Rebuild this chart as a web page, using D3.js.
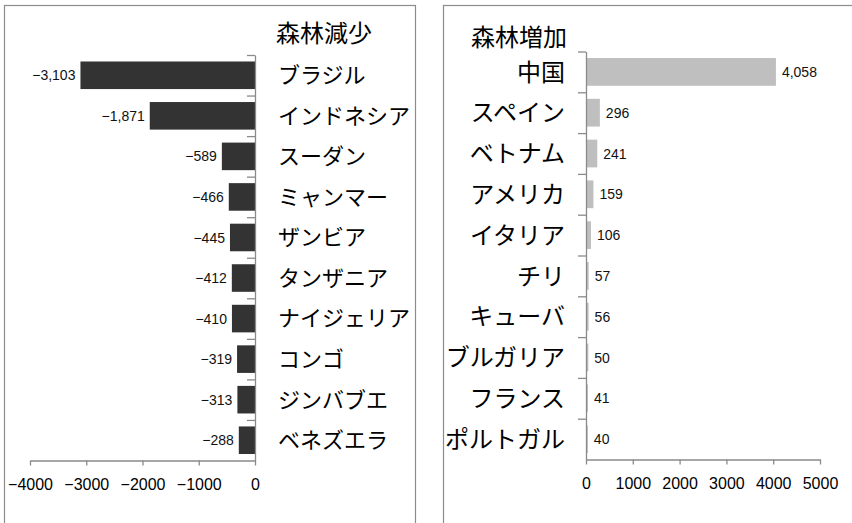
<!DOCTYPE html>
<html>
<head>
<meta charset="utf-8">
<script src="https://cdn.jsdelivr.net/npm/d3@7"></script>
<style>
  body { margin: 0; background: #fff; }
  svg text { font-family: "Noto Sans CJK JP", "Noto Sans", sans-serif; }
  .num { font-family: "Liberation Sans", Arial, sans-serif; }
</style>
</head>
<body>
<div id="chart"></div>
<script>
// Données
const lossCountries = ["ブラジル", "インドネシア", "スーダン", "ミャンマー", "ザンビア", "タンザニア", "ナイジェリア", "コンゴ", "ジンバブエ", "ベネズエラ"];
const lossValues = [-3103, -1871, -589, -466, -445, -412, -410, -319, -313, -288];
const gainCountries = ["中国", "スペイン", "ベトナム", "アメリカ", "イタリア", "チリ", "キューバ", "ブルガリア", "フランス", "ポルトガル"];
const gainValues = [4058, 296, 241, 159, 106, 57, 56, 50, 41, 40];
const lossTicks = [-4000, -3000, -2000, -1000, 0];
const gainTicks = [0, 1000, 2000, 3000, 4000, 5000];
const lossTitle = "森林減少";
const gainTitle = "森林増加";

const W = 852, H = 523;
const axisColor = "#8a8a8a";

const svg = d3.select("#chart").append("svg")
    .attr("width", W)
    .attr("height", H);

// Cadres des deux panneaux
svg.append("rect")
    .attr("x", 4.5).attr("y", 5.5)
    .attr("width", 411).attr("height", 530)
    .attr("fill", "none").attr("stroke", "#8c8c8c").attr("stroke-width", 1.2);
svg.append("rect")
    .attr("x", 443.5).attr("y", 5.5)
    .attr("width", 430).attr("height", 530)
    .attr("fill", "none").attr("stroke", "#8c8c8c").attr("stroke-width", 1.2);

function panel(cfg) {
    const { names, values, ticks, title, xDomain, xRange, top, bottom, color, side, catSize } = cfg;
    const g = svg.append("g");

    const x = d3.scaleLinear().domain(xDomain).range(xRange);
    const y = d3.scaleBand().domain(names).range([top, bottom]).paddingInner(0.32).paddingOuter(0.16);
    const yLin = d3.scaleLinear().domain([0, names.length]).range([top, bottom]);
    const x0 = x(0);

    // Barres
    g.selectAll("rect.bar")
        .data(values)
        .enter()
        .append("rect")
        .attr("class", "bar")
        .attr("x", d => Math.min(x(d), x0))
        .attr("y", (d, i) => y(names[i]))
        .attr("width", d => Math.abs(x(d) - x0))
        .attr("height", y.bandwidth())
        .attr("fill", color);

    // Étiquettes de valeurs
    g.selectAll("text.val")
        .data(values)
        .enter()
        .append("text")
        .attr("class", "num")
        .attr("x", d => side === "left" ? x(d) - 5 : x(d) + 6)
        .attr("y", (d, i) => y(names[i]) + y.bandwidth() / 2)
        .attr("dy", "0.36em")
        .attr("text-anchor", side === "left" ? "end" : "start")
        .attr("font-size", 14)
        .attr("fill", "#111")
        .text(d => d3.format(",")(d));

    // Axe vertical (catégories)
    const yAxis = g.append("g")
        .attr("transform", `translate(${x0},0)`)
        .call(d3.axisLeft(yLin).tickValues(d3.range(names.length)).tickSize(8).tickSizeOuter(0).tickFormat(""));
    yAxis.select(".domain").attr("stroke", axisColor).attr("stroke-width", 1.3);
    yAxis.selectAll(".tick line").attr("stroke", axisColor).attr("stroke-width", 1.3);

    // Noms des pays
    g.selectAll("text.cat")
        .data(names)
        .enter()
        .append("text")
        .attr("x", side === "left" ? 278 : 565)
        .attr("y", d => y(d) + y.bandwidth() / 2)
        .attr("dy", "0.36em")
        .attr("text-anchor", side === "left" ? "start" : "end")
        .attr("font-size", catSize)
        .attr("fill", "#000")
        .text(d => d);

    // Axe horizontal
    const xAxis = g.append("g")
        .attr("transform", `translate(0,${bottom})`)
        .call(d3.axisBottom(x).tickValues(ticks).tickSize(5).tickSizeOuter(0).tickPadding(13).tickFormat(d3.format("d")));
    xAxis.select(".domain").attr("stroke", axisColor).attr("stroke-width", 1.3);
    xAxis.selectAll(".tick line").attr("stroke", axisColor).attr("stroke-width", 1.3);
    xAxis.selectAll("text")
        .attr("class", "num")
        .attr("font-size", 16)
        .attr("fill", "#000");

    // Titre
    g.append("text")
        .attr("x", side === "left" ? 276 : 471)
        .attr("y", side === "left" ? 33 : 37)
        .attr("dy", "0.36em")
        .attr("font-size", 24)
        .attr("fill", "#000")
        .text(title);
}

panel({
    names: lossCountries, values: lossValues, ticks: lossTicks, title: lossTitle,
    xDomain: [-4000, 0], xRange: [30, 255], top: 55, bottom: 460.5,
    color: "#333333", side: "left", catSize: 22
});

panel({
    names: gainCountries, values: gainValues, ticks: gainTicks, title: gainTitle,
    xDomain: [0, 5000], xRange: [586, 820], top: 51.5, bottom: 459.5,
    color: "#bfbfbf", side: "right", catSize: 24
});
</script>
</body>
</html>
